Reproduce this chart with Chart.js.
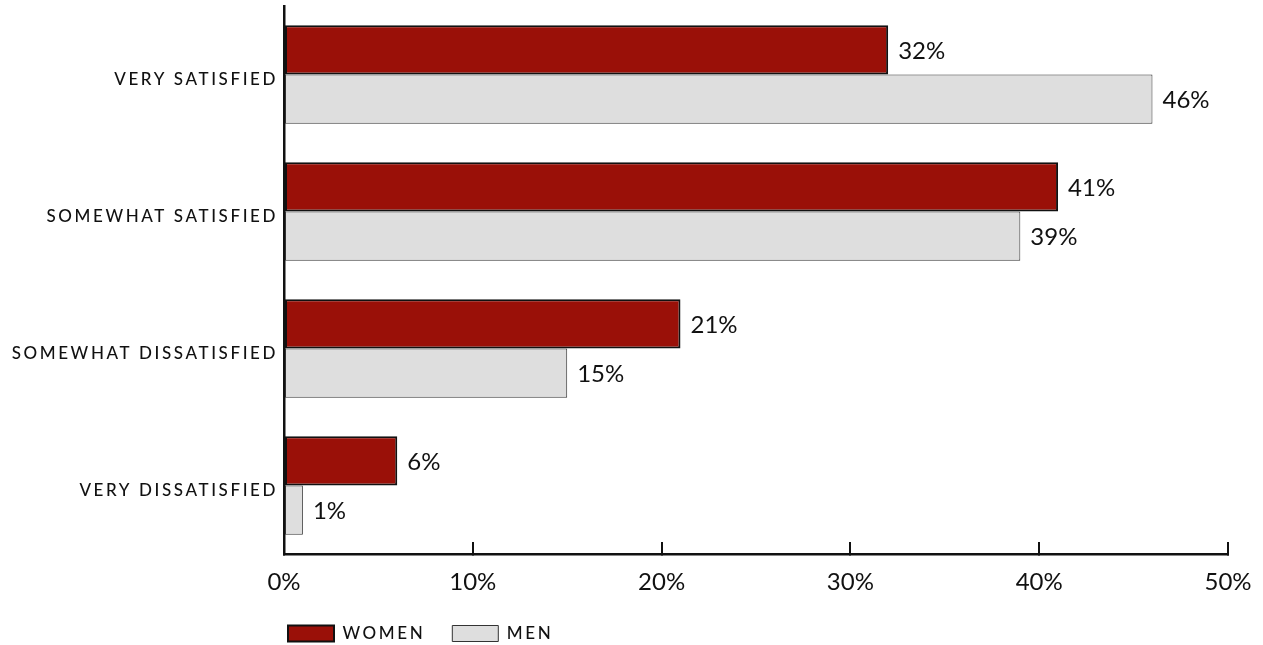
<!DOCTYPE html>
<html>
<head>
<meta charset="utf-8">
<script src="https://cdn.jsdelivr.net/npm/chart.js@4.4.1/dist/chart.umd.min.js"></script>
<style>
html,body{margin:0;padding:0;background:#fff;}
#wrap{width:1263px;height:645px;position:relative;}
</style>
</head>
<body>
<div id="wrap"><canvas id="c"></canvas></div>
<script>
const categories = ['VERY SATISFIED', 'SOMEWHAT SATISFIED', 'SOMEWHAT DISSATISFIED', 'VERY DISSATISFIED'];
const women = [32, 41, 21, 6];
const men = [46, 39, 15, 1];
const seriesNames = ['WOMEN', 'MEN'];
const xTicks = [0, 10, 20, 30, 40, 50];

const FONT = 'Lato, "DejaVu Sans", sans-serif';
const SPACING = '2.6px';

const spacingPlugin = {
  id: 'spacing',
  beforeLayout(chart) { chart.ctx.letterSpacing = SPACING; },
  afterLayout(chart) {
    if (chart.legend) { chart.legend.left -= 23; chart.legend.right -= 23; }
  },
  beforeDraw(chart) { chart.ctx.letterSpacing = SPACING; },
  beforeDatasetsDraw(chart) { chart.ctx.letterSpacing = '0px'; },
  afterDraw(chart) { chart.ctx.letterSpacing = '0px'; }
};

const valueLabels = {
  id: 'valueLabels',
  afterDatasetsDraw(chart) {
    const ctx = chart.ctx;
    ctx.save();
    ctx.letterSpacing = '0px';
    ctx.font = '24px ' + FONT;
    ctx.fillStyle = '#111';
    ctx.textAlign = 'left';
    ctx.textBaseline = 'middle';
    chart.data.datasets.forEach((ds, di) => {
      const meta = chart.getDatasetMeta(di);
      meta.data.forEach((bar, i) => {
        ctx.fillText(ds.data[i] + '%', bar.x + 10, bar.y + 1);
      });
    });
    ctx.restore();
  }
};

new Chart(document.getElementById('c'), {
  type: 'bar',
  data: {
    labels: categories,
    datasets: [
      { label: seriesNames[0], data: women, backgroundColor: '#9a1008', borderColor: '#111', borderWidth: 2, borderSkipped: false },
      { label: seriesNames[1], data: men, backgroundColor: '#dedede', borderColor: '#333', borderWidth: 1, borderSkipped: false }
    ]
  },
  options: {
    indexAxis: 'y',
    responsive: true,
    maintainAspectRatio: false,
    animation: false,
    datasets: { bar: { categoryPercentage: 0.72, barPercentage: 1 } },
    layout: { padding: { top: 6, right: 35, bottom: -7, left: 0 } },
    scales: {
      x: {
        min: 0, max: 50,
        afterBuildTicks(scale) { scale.ticks = xTicks.map(v => ({ value: v })); },
        afterFit(scale) { scale.height = 44; scale.paddingLeft = 0; scale.paddingRight = 0; },
        ticks: {
          z: 1,
          callback: v => v + '%',
          font: { family: FONT, size: 24 },
          color: '#111',
          padding: 26
        },
        grid: { display: true, drawOnChartArea: false, drawTicks: true, tickLength: -12, color: '#111', lineWidth: 2 },
        border: { display: true, color: '#111', width: 2.5 }
      },
      y: {
        afterFit(scale) { scale.width = 284; scale.paddingTop = 0; scale.paddingBottom = 0; },
        ticks: {
          font: { family: FONT, size: 17, weight: '500' },
          color: '#111',
          padding: 6,
          labelOffset: 5
        },
        grid: { display: false, drawTicks: false },
        border: { display: true, color: '#111', width: 2.5 }
      }
    },
    plugins: {
      legend: {
        position: 'bottom',
        align: 'start',
        fullSize: false,
        labels: {
          boxWidth: 46,
          boxHeight: 16,
          padding: 27,
          color: '#111',
          font: { family: FONT, size: 17, weight: '500' }
        }
      },
      tooltip: { enabled: false }
    }
  },
  plugins: [spacingPlugin, valueLabels]
});
</script>
</body>
</html>
